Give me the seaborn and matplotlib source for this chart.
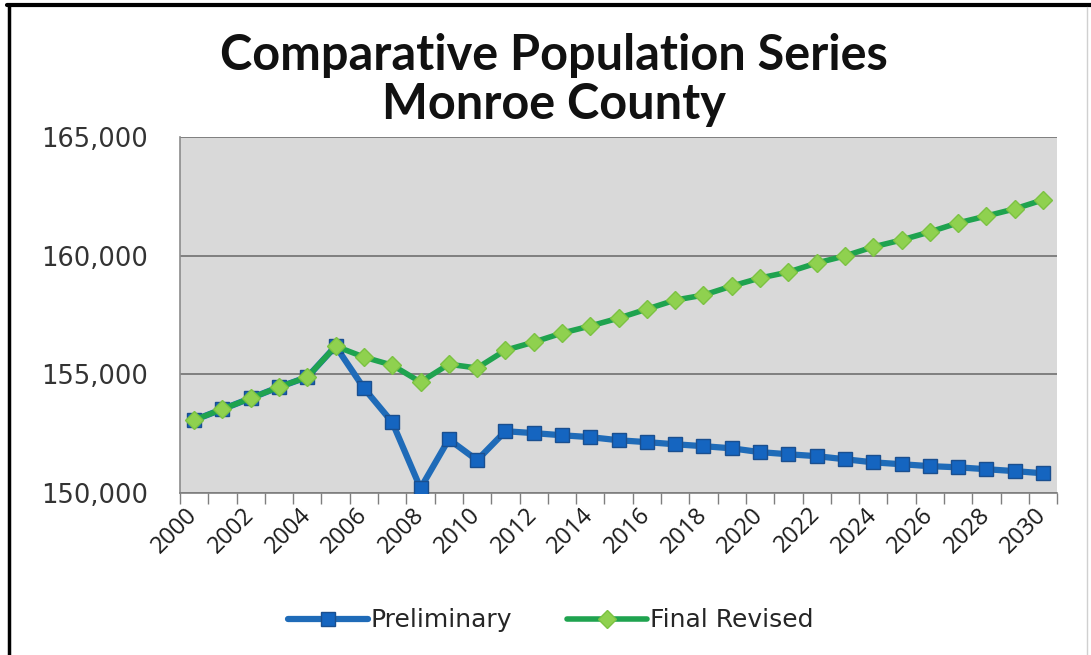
import numpy as np
import pandas as pd
import seaborn as sns
import matplotlib.pyplot as plt
from matplotlib.lines import Line2D
from matplotlib.ticker import FixedLocator, FuncFormatter

years = list(range(2000, 2031))

preliminary = [153080, 153540, 154000, 154470, 154890, 156190, 154420, 152990, 150210, 152270,
               151390, 152610, 152530, 152440, 152360, 152230, 152150, 152060, 151980, 151890,
               151730, 151640, 151560, 151430, 151300, 151220, 151140, 151090, 151010, 150930,
               150840]

final_revised = [153080, 153540, 154000, 154470, 154890, 156190, 155730, 155390, 154680, 155430,
                 155270, 156020, 156360, 156740, 157040, 157370, 157750, 158130, 158340, 158720,
                 159060, 159310, 159690, 159990, 160370, 160660, 161000, 161380, 161670, 161970,
                 162350]

y_ticks = [150000, 155000, 160000, 165000]
x_labels = years[::2]

df = pd.DataFrame({"Year": years, "Preliminary": preliminary, "Final Revised": final_revised})

sns.set_style("white")
plt.rcParams["font.family"] = ["DejaVu Sans"]

fig = plt.figure(figsize=(10.91, 6.55), dpi=100)
ax = fig.add_axes([0.165, 0.247, 0.804, 0.544])
ax.set_facecolor("#d9d9d9")

sns.lineplot(data=df, x="Year", y="Preliminary", ax=ax, color="#1f6bb8", linewidth=4.5,
             marker="s", markersize=10, markerfacecolor="#1565c0", markeredgecolor="#1a4f8f",
             markeredgewidth=1, label="Preliminary", zorder=3)
sns.lineplot(data=df, x="Year", y="Final Revised", ax=ax, color="#1fa34f", linewidth=4,
             marker="D", markersize=9, markerfacecolor="#8fd14f", markeredgecolor="#7cc242",
             markeredgewidth=1, label="Final Revised", zorder=4)

ax.set_xlim(1999.5, 2030.5)
ax.set_ylim(150000, 165000)
ax.set_yticks(y_ticks)
ax.yaxis.set_major_formatter(FuncFormatter(lambda v, p: f"{int(v):,}"))
ax.yaxis.grid(True, color="#7f7f7f", linewidth=1.4)
ax.set_axisbelow(True)

ax.xaxis.set_major_locator(FixedLocator(x_labels))
ax.xaxis.set_minor_locator(FixedLocator(np.arange(1999.5, 2031, 1)))
ax.set_xticklabels([str(y) for y in x_labels], rotation=45, ha="right", va="center",
                   rotation_mode="anchor", fontsize=17, family="Open Sans", color="#1a1a1a")
ax.tick_params(axis="x", which="major", length=0, pad=13)
ax.tick_params(axis="x", which="minor", length=8, width=1, color="#7f7f7f", direction="out", bottom=True)
ax.tick_params(axis="y", length=0, pad=23, labelsize=18.5, labelcolor="#333333")

ax.set_xlabel("")
ax.set_ylabel("")
for s in ["top", "right"]:
    ax.spines[s].set_visible(False)
ax.spines["left"].set_color("#8c8c8c")
ax.spines["bottom"].set_color("#7f7f7f")
ax.spines["left"].set_linewidth(1.2)
ax.spines["bottom"].set_linewidth(1.2)

fig.text(0.508, 0.893, "Comparative Population Series", ha="center", va="baseline",
         fontsize=35, fontweight="bold", family="Lato", color="#111111")
fig.text(0.508, 0.818, "Monroe County", ha="center", va="baseline",
         fontsize=35, fontweight="bold", family="Lato", color="#111111")

handles, labels = ax.get_legend_handles_labels()
ax.legend(handles, labels, loc="center", bbox_to_anchor=(0.505, 0.053),
          bbox_transform=fig.transFigure, ncol=2, frameon=False, fontsize=18,
          handlelength=3.2, columnspacing=2.2, handletextpad=0.1)

# outer frame
fig.add_artist(Line2D([0.006, 1.0], [0.992, 0.992], transform=fig.transFigure, color="black", linewidth=3))
fig.add_artist(Line2D([0.008, 0.008], [0.0, 0.992], transform=fig.transFigure, color="black", linewidth=2.5))
fig.add_artist(Line2D([0.996, 0.996], [0.0, 0.99], transform=fig.transFigure, color="#d0d0d0", linewidth=1))

fig.savefig("out.png", dpi=100)
plt.close(fig)
